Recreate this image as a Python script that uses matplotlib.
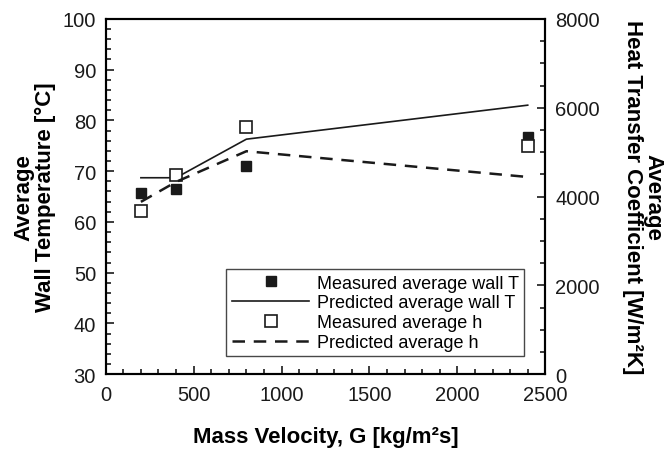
import matplotlib.pyplot as plt
from matplotlib.ticker import MultipleLocator

plt.rcParams['font.family'] = ['Liberation Sans', 'DejaVu Sans']

# measured / predicted wall temperature (left axis)
G_meas = [200, 400, 800, 2400]
T_meas = [65.7, 66.5, 71.0, 76.7]
G_pred_T = [200, 400, 800, 2400]
T_pred = [68.7, 68.7, 76.3, 83.0]

# measured / predicted heat transfer coefficient (right axis)
h_meas = [3670, 4480, 5560, 5140]
G_pred_h = [200, 400, 800, 2400]
h_pred = [3880, 4330, 5020, 4440]

fig = plt.figure(figsize=(6.65, 4.52), dpi=100)
ax = fig.add_axes([0.159, 0.170, 0.661, 0.786])
ax2 = ax.twinx()

l1, = ax.plot(G_meas, T_meas, 's', color='#1a1a1a', ms=7, ls='none',
              label='Measured average wall T')
l2, = ax.plot(G_pred_T, T_pred, '-', color='#1a1a1a', lw=1.2,
              label='Predicted average wall T')
l3, = ax2.plot(G_meas, h_meas, 's', mfc='white', mec='#1a1a1a', mew=1.2, ms=8,
               ls='none', label='Measured average h')
l4, = ax2.plot(G_pred_h, h_pred, '--', color='#1a1a1a', lw=1.8,
               dashes=(5, 3.5), label='Predicted average h')

ax.set_xlim(0, 2500)
ax.set_ylim(30, 100)
ax2.set_ylim(0, 8000)

ax.xaxis.set_major_locator(MultipleLocator(500))
ax.xaxis.set_minor_locator(MultipleLocator(100))
ax.yaxis.set_major_locator(MultipleLocator(10))
ax.yaxis.set_minor_locator(MultipleLocator(2))
ax2.yaxis.set_major_locator(MultipleLocator(2000))
ax2.yaxis.set_minor_locator(MultipleLocator(500))

for a in (ax, ax2):
    for s in a.spines.values():
        s.set_linewidth(1.5)
    a.tick_params(which='both', direction='in', width=1.2, labelsize=14.5,
                  colors='#1a1a1a', pad=7)
    a.tick_params(which='major', length=6)
    a.tick_params(which='minor', length=3.5)
ax.tick_params(axis='x', which='both', top=False, pad=8)
ax.tick_params(axis='y', which='both', right=False)

ax.set_xlabel('Mass Velocity, G [kg/m²s]', fontsize=16, fontweight='bold',
              labelpad=16)
ax.set_ylabel('Average\nWall Temperature [°C]', fontsize=16, fontweight='bold',
              linespacing=1.0, labelpad=5)
ax2.set_ylabel('Average\nHeat Transfer Coefficient [W/m²K]', fontsize=16,
               fontweight='bold', rotation=270, linespacing=1.0, labelpad=46)

leg = ax.legend(handles=[l1, l2, l3, l4], loc='lower right',
                bbox_to_anchor=(0.972, 0.025), fontsize=13, frameon=True,
                fancybox=False, edgecolor='#1a1a1a', handlelength=4.3,
                borderpad=0.3, labelspacing=0.15, handletextpad=0.4)
leg.get_frame().set_linewidth(1.0)

fig.savefig('out.png', dpi=100)
